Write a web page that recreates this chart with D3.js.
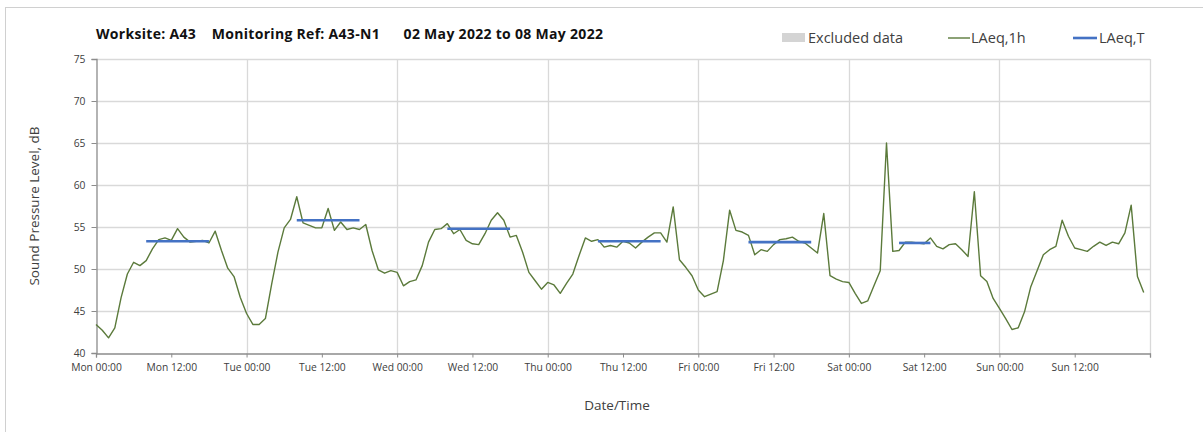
<!DOCTYPE html>
<html>
<head>
<meta charset="utf-8">
<script src="https://cdn.jsdelivr.net/npm/d3@7"></script>
<style>
  body { margin: 0; background: #fff; }
  svg { display: block; font-family: "Open Sans", "Lato", sans-serif; }
</style>
</head>
<body>
<svg id="chart" width="1203" height="432"></svg>
<script>
// hourly LAeq,1h values, Mon 00:00 .. Sun 23:00
var hourValues = [
  43.4, 42.7, 41.8, 43.0, 46.6, 49.4, 50.8, 50.4, 51.0, 52.4,
  53.5, 53.7, 53.4, 54.8, 53.8, 53.2, 53.3, 53.4, 53.1, 54.5,
  52.2, 50.1, 49.1, 46.6, 44.7, 43.4, 43.4, 44.1, 48.2, 52.0,
  54.9, 55.9, 58.6, 55.5, 55.2, 54.9, 54.9, 57.2, 54.6, 55.6,
  54.7, 54.9, 54.7, 55.3, 52.2, 49.9, 49.5, 49.8, 49.6, 48.0,
  48.5, 48.7, 50.4, 53.2, 54.7, 54.8, 55.4, 54.2, 54.7, 53.4,
  53.0, 52.9, 54.2, 55.8, 56.7, 55.8, 53.8, 54.0, 52.0, 49.6,
  48.6, 47.6, 48.4, 48.1, 47.1, 48.3, 49.4, 51.6, 53.7, 53.3,
  53.5, 52.6, 52.8, 52.6, 53.3, 53.1, 52.5, 53.2, 53.8, 54.3,
  54.3, 53.2, 57.4, 51.1, 50.2, 49.2, 47.5, 46.7, 47.0, 47.3,
  51.0, 57.0, 54.6, 54.4, 54.0, 51.7, 52.3, 52.1, 52.9, 53.5,
  53.6, 53.8, 53.3, 53.1, 52.5, 51.9, 56.6, 49.2, 48.8, 48.5,
  48.4, 47.1, 45.9, 46.2, 48.0, 49.8, 65.0, 52.1, 52.2, 53.2,
  53.2, 53.1, 53.0, 53.7, 52.7, 52.4, 52.9, 53.0, 52.3, 51.5,
  59.2, 49.2, 48.5, 46.5, 45.3, 44.1, 42.8, 43.0, 44.9, 47.9,
  49.8, 51.7, 52.3, 52.7, 55.8, 53.9, 52.5, 52.3, 52.1, 52.7,
  53.2, 52.8, 53.2, 53.0, 54.3, 57.6, 49.1, 47.2
];

// LAeq,T periods (hour offsets from Mon 00:00)
var periodStart = [8, 32, 56, 80, 104, 128];
var periodEnd = [18, 42, 66, 90, 114, 133];
var periodLevel = [53.3, 55.8, 54.8, 53.3, 53.2, 53.1];

var tickLabels = ["Mon 00:00", "Mon 12:00", "Tue 00:00", "Tue 12:00", "Wed 00:00", "Wed 12:00",
  "Thu 00:00", "Thu 12:00", "Fri 00:00", "Fri 12:00", "Sat 00:00", "Sat 12:00", "Sun 00:00", "Sun 12:00"];
var yTicks = [40, 45, 50, 55, 60, 65, 70, 75];

var svg = d3.select("#chart");
var mLeft = 96, mRight = 1150, mTop = 59, mBottom = 353;

var x = d3.scaleLinear().domain([0, 168]).range([mLeft, mRight]);
var y = d3.scaleLinear().domain([40, 75]).range([mBottom, mTop]);

// outer frame (only top and left show)
svg.append("rect").attr("x", 5.5).attr("y", 7.5).attr("width", 1400).attr("height", 600)
  .attr("fill", "none").attr("stroke", "#d0d0d0");

var g = svg.append("g");

// horizontal grid
g.selectAll(".hgrid").data(yTicks.slice(1)).enter().append("line")
  .attr("x1", mLeft).attr("x2", mRight)
  .attr("y1", function(d) { return Math.round(y(d)) + 0.5; })
  .attr("y2", function(d) { return Math.round(y(d)) + 0.5; })
  .attr("stroke", "#d9d9d9").attr("stroke-width", 1.3);

// vertical grid at each midnight
var days = d3.range(24, 169, 24);
g.selectAll(".vgrid").data(days).enter().append("line")
  .attr("x1", function(d) { return Math.round(x(d)) + 0.5; })
  .attr("x2", function(d) { return Math.round(x(d)) + 0.5; })
  .attr("y1", mTop).attr("y2", mBottom)
  .attr("stroke", "#d9d9d9").attr("stroke-width", 1.3);

// x axis
var xAxis = d3.axisBottom(x).tickValues(d3.range(0, 169, 12)).tickSize(4).tickPadding(6)
  .tickFormat(function(d, i) { return tickLabels[i] || ""; });
var xg = svg.append("g").attr("transform", "translate(0," + (mBottom + 0.5) + ")").call(xAxis);
xg.select(".domain").attr("stroke", "#8c8c8c").attr("stroke-width", 1.3);
xg.selectAll(".tick line").attr("stroke", "#8c8c8c");
xg.selectAll("text").attr("fill", "#404040").style("font-size", "10.3px").style("font-family", "Open Sans");

// y axis
var yAxis = d3.axisLeft(y).tickValues(yTicks).tickSize(5).tickPadding(6).tickFormat(d3.format("d"));
var yg = svg.append("g").attr("transform", "translate(" + (mLeft + 0.5) + ",0)").call(yAxis);
yg.select(".domain").attr("stroke", "#8c8c8c").attr("stroke-width", 1.3);
yg.selectAll(".tick line").attr("stroke", "#8c8c8c");
yg.selectAll("text").attr("fill", "#404040").style("font-size", "10.3px").style("font-family", "Open Sans");

// LAeq,1h line
var line = d3.line()
  .x(function(d, i) { return x(i); })
  .y(function(d) { return y(d); });
svg.append("path").datum(hourValues)
  .attr("d", line)
  .attr("fill", "none")
  .attr("stroke", "#5b7a3b")
  .attr("stroke-width", 1.4)
  .attr("stroke-linejoin", "round");

// LAeq,T lines
svg.selectAll(".laeqt").data(periodLevel).enter().append("line")
  .attr("x1", function(d, i) { return x(periodStart[i]); })
  .attr("x2", function(d, i) { return x(periodEnd[i]); })
  .attr("y1", function(d) { return y(d); })
  .attr("y2", function(d) { return y(d); })
  .attr("stroke", "#4472c4")
  .attr("stroke-width", 2.6);

// title
svg.append("text").attr("x", 96).attr("y", 39)
  .attr("font-weight", "bold").style("font-size", "14px").style("letter-spacing", "0.3px").attr("fill", "#111")
  .attr("xml:space", "preserve")
  .text("Worksite: A43    Monitoring Ref: A43-N1      02 May 2022 to 08 May 2022");

// legend
var lg = svg.append("g");
lg.append("rect").attr("x", 782).attr("y", 33).attr("width", 23).attr("height", 9).attr("fill", "#d4d4d4");
lg.append("text").attr("x", 808).attr("y", 43).style("font-size", "14.5px").attr("fill", "#404040").text("Excluded data");
lg.append("line").attr("x1", 948).attr("x2", 970).attr("y1", 38).attr("y2", 38)
  .attr("stroke", "#5b7a3b").attr("stroke-width", 1.4);
lg.append("text").attr("x", 971).attr("y", 43).style("font-size", "14.5px").attr("fill", "#404040").text("LAeq,1h");
lg.append("line").attr("x1", 1073).attr("x2", 1097).attr("y1", 38).attr("y2", 38)
  .attr("stroke", "#4472c4").attr("stroke-width", 2.6);
lg.append("text").attr("x", 1099).attr("y", 43).style("font-size", "14.5px").attr("fill", "#404040").text("LAeq,T");

// axis titles
svg.append("text").attr("transform", "translate(39," + ((mTop + mBottom) / 2) + ") rotate(-90)")
  .attr("text-anchor", "middle").style("font-size", "13.5px").attr("fill", "#404040")
  .text("Sound Pressure Level, dB");
svg.append("text").attr("x", 617).attr("y", 410)
  .attr("text-anchor", "middle").style("font-size", "13.5px").attr("fill", "#404040")
  .text("Date/Time");
</script>
</body>
</html>
